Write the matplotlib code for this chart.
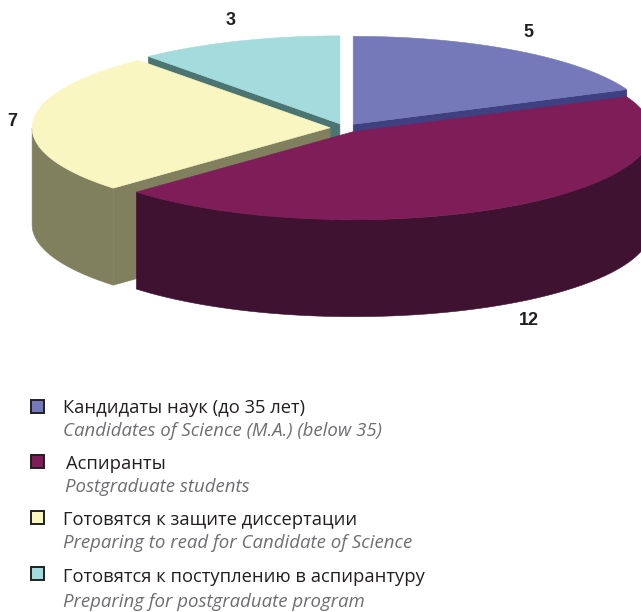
import numpy as np
import matplotlib
matplotlib.use("Agg")
import matplotlib.pyplot as plt
from matplotlib.patches import Polygon, Rectangle

# data
values = [5, 12, 7, 3]
labels_ru = ["Кандидаты наук (до 35 лет)", "Аспиранты",
             "Готовятся к защите диссертации", "Готовятся к поступлению в аспирантуру"]
labels_en = ["Candidates of Science (M.A.) (below 35)", "Postgraduate students",
             "Preparing to read for Candidate of Science", "Preparing for postgraduate program"]
top_colors = ["#7579b9", "#7f1d59", "#faf6c1", "#a4dbdc"]
side_colors = ["#3e4081", "#3e1230", "#80805f", "#4b7572"]

# geometry of the 3d pie (pixel space)
cx, cy = 345, 128
rx, ry = 298, 88
depth = 97
explode = 0.05

fig = plt.figure(figsize=(6.41, 6.12), dpi=100)
ax = fig.add_axes([0, 0, 1, 1])
ax.set_xlim(0, 641)
ax.set_ylim(612, 0)
ax.axis("off")


def pt(theta, ox, oy, r=1.0, dz=0.0):
    return (cx + ox + r * rx * np.cos(theta), cy + oy - r * ry * np.sin(theta) + dz)


total = sum(values)
spans = []
a = np.pi / 2
for v in values:
    a2 = a - 2 * np.pi * v / total
    spans.append((a2, a))
    a = a2

def poly(pts, color, z):
    ax.add_patch(Polygon(pts, closed=True, facecolor=color, edgecolor=color, lw=0.4, zorder=z))

# back slices first
order = sorted(range(len(values)), key=lambda i: -np.sin((spans[i][0] + spans[i][1]) / 2))
for z, i in enumerate(order):
    a2, a1 = spans[i]
    mid = (a1 + a2) / 2
    ox = explode * rx * np.cos(mid)
    oy = -explode * ry * np.sin(mid)
    c = (cx + ox, cy + oy)
    zb = z * 10
    # radial walls facing the viewer
    for ang, nrm in ((a1, a1 + np.pi / 2), (a2, a2 - np.pi / 2)):
        if np.sin(nrm) < -1e-6:
            e = pt(ang, ox, oy)
            poly([c, e, (e[0], e[1] + depth), (c[0], c[1] + depth)], side_colors[i], zb + 1)
    # outer wall, front half only
    th = np.linspace(a2, a1, 300)
    front = th[np.sin(th) < 0]
    if len(front) > 1:
        topa = [pt(t, ox, oy) for t in front]
        bot = [pt(t, ox, oy, dz=depth) for t in front[::-1]]
        poly(topa + bot, side_colors[i], zb + 2)
    # top face
    poly([c] + [pt(t, ox, oy) for t in th], top_colors[i], zb + 3)
    # value label
    lx = cx + 1.12 * rx * np.cos(mid)
    ly = cy - 1.3 * ry * np.sin(mid) + (depth if np.sin(mid) < -0.3 else 0)
    ax.text(lx, ly, str(values[i]), ha="center", va="center", fontsize=13,
            fontweight="bold", family=["Liberation Sans", "DejaVu Sans"],
            color="#231f20", zorder=100)

# legend
sq_y = [407, 462, 518, 574]
ru_y = [408, 464, 520, 577]
en_y = [431, 487, 543, 602]
for i in range(len(values)):
    ax.add_patch(Rectangle((31, sq_y[i] - 7), 13, 13, facecolor=top_colors[i],
                           edgecolor="#231f20", lw=1.4, zorder=100))
    ax.text(63 + (3 if i == 1 else 0), ru_y[i], labels_ru[i], ha="left", va="center",
            fontsize=13.2, family=["Open Sans", "DejaVu Sans"], color="#231f20")
    ax.text(63 + (2 if i == 1 else 0), en_y[i], labels_en[i], ha="left", va="center",
            fontsize=13.4, style="italic", family=["Open Sans", "DejaVu Sans"], color="#6d6e71")

fig.savefig("out.png", dpi=100)
